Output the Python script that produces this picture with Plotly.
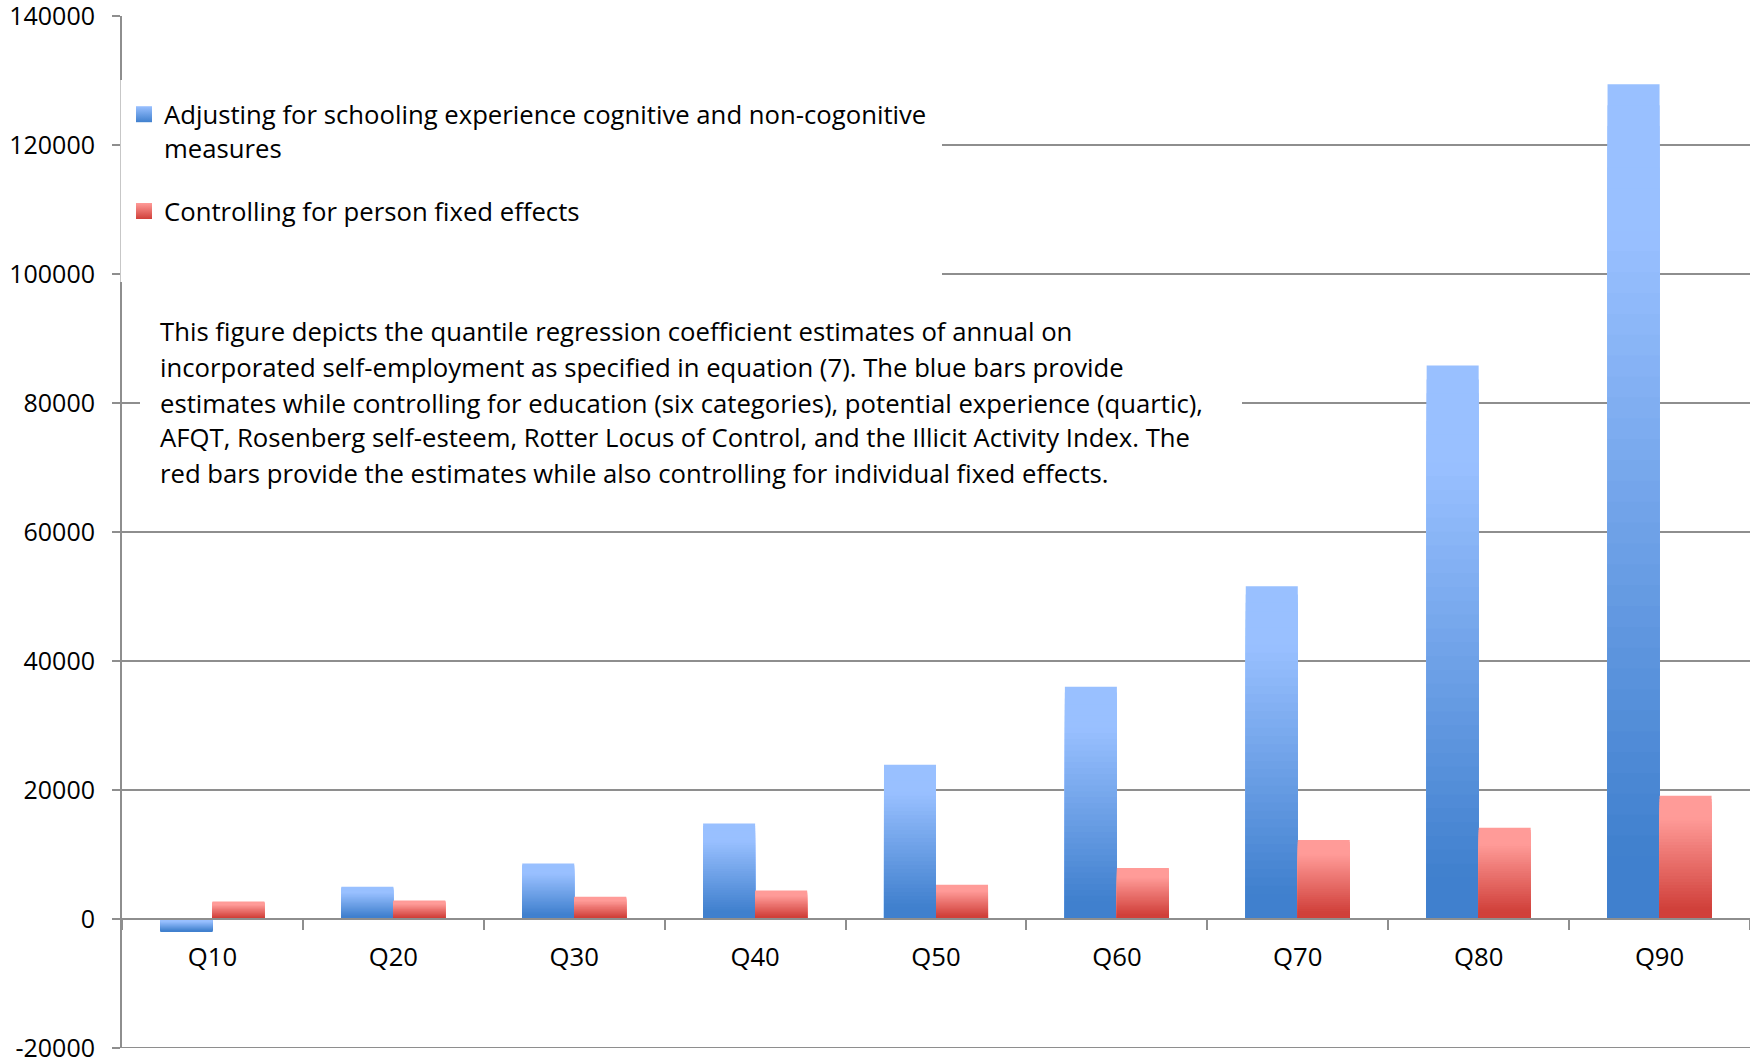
import plotly.graph_objects as go

# ---------------- data ----------------
categories = ["Q10", "Q20", "Q30", "Q40", "Q50", "Q60", "Q70", "Q80", "Q90"]
blue_values = [-2000, 5000, 8600, 14800, 23900, 36000, 51600, 85800, 129400]
red_values = [2700, 2850, 3450, 4400, 5300, 7900, 12250, 14150, 19100]
series_names = [
    "Adjusting for schooling experience cognitive and non-cogonitive<br>measures",
    "Controlling for person fixed effects",
]
y_tick_values = [-20000, 0, 20000, 40000, 60000, 80000, 100000, 120000, 140000]
note_lines = [
    "This figure depicts the quantile regression coefficient estimates of annual on",
    "incorporated self-employment as specified in equation (7). The blue bars provide",
    "estimates while controlling for education (six categories), potential experience (quartic),",
    "AFQT, Rosenberg self-esteem, Rotter Locus of Control, and the Illicit Activity Index. The",
    "red bars provide the estimates while also controlling for individual fixed effects.",
]

# ---------------- layout geometry (page pixels) ----------------
W, H = 1750, 1060
PLOT_L, PLOT_R, PLOT_T, PLOT_B = 122, 1750, 16, 1048
ML, MR, MT, MB = PLOT_L, W - PLOT_R, PLOT_T, H - PLOT_B
PW, PH = PLOT_R - PLOT_L, PLOT_B - PLOT_T


def px_x(px):
    return (px - PLOT_L) / PW


def px_y(py):
    return (PLOT_B - py) / PH


FONT = "'Open Sans', Lato, sans-serif"
FS = 25.7
FS_TICK = 25
GRID = "#8e8e8e"

BLUE_LIGHT, BLUE_DARK = (153, 192, 255), (64, 128, 206)
RED_LIGHT, RED_DARK = (255, 155, 152), (208, 64, 58)


def grad(light, dark, t):
    a, b = 0.18, 0.92
    f = min(max((t - a) / (b - a), 0.0), 1.0)
    c = [round(light[i] + (dark[i] - light[i]) * f) for i in range(3)]
    return "rgb(%d,%d,%d)" % tuple(c)


fig = go.Figure()

# each bar is drawn as a stack of nested bars (full height first, shorter on top)
# so that it shows a vertical colour gradient
N = 40
for vals, light, dark, grp in [
    (blue_values, BLUE_LIGHT, BLUE_DARK, "blue"),
    (red_values, RED_LIGHT, RED_DARK, "red"),
]:
    for k in range(N):
        frac = (N - k) / N
        heights = [v * frac for v in vals]
        mid = (N - k - 0.5) / N
        colors = []
        for v in vals:
            t = (1 - mid) if v >= 0 else mid
            colors.append(grad(light, dark, t))
        fig.add_bar(
            x=categories,
            y=heights,
            offsetgroup=grp,
            marker=dict(color=colors, line=dict(width=0)),
            showlegend=False,
            hoverinfo="skip",
        )

# legend entries
for name, light, dark, grp in [
    (series_names[0], BLUE_LIGHT, BLUE_DARK, "g1"),
    (series_names[1], RED_LIGHT, RED_DARK, "g2"),
]:
    fig.add_scatter(
        x=[None],
        y=[None],
        mode="markers",
        name=name,
        legendgroup=grp,
        marker=dict(
            symbol="square",
            size=16,
            color="rgb(%d,%d,%d)" % light,
            gradient=dict(type="vertical", color="rgb(%d,%d,%d)" % dark),
            line=dict(width=0),
        ),
    )

# white boxes behind legend and note (they hide the gridlines)
shapes = [
    dict(type="rect", xref="paper", yref="paper", layer="above",
         x0=px_x(120.5), x1=px_x(942), y0=px_y(282), y1=px_y(80),
         fillcolor="white", line=dict(width=0)),
    dict(type="rect", xref="paper", yref="paper", layer="above",
         x0=px_x(140), x1=px_x(1242), y0=px_y(510), y1=px_y(288),
         fillcolor="white", line=dict(width=0)),
    # bottom gridline at the lower range edge
    dict(type="line", xref="paper", yref="y", layer="below",
         x0=0, x1=1, y0=y_tick_values[0], y1=y_tick_values[0],
         line=dict(color=GRID, width=2)),
]

note_y = [331.5, 367, 403, 437.5, 473]
annotations = [
    dict(xref="paper", yref="paper", x=px_x(158), y=px_y(yy), text=line,
         showarrow=False, xanchor="left", yanchor="middle",
         font=dict(family=FONT, size=FS, color="black"))
    for line, yy in zip(note_lines, note_y)
]

fig.update_layout(
    width=W,
    height=H,
    margin=dict(l=ML, r=MR, t=MT, b=MB, pad=0, autoexpand=False),
    paper_bgcolor="white",
    plot_bgcolor="white",
    barmode="group",
    bargap=0.425,
    bargroupgap=0,
    showlegend=True,
    legend=dict(
        x=px_x(124),
        y=px_y(91),
        xanchor="left",
        yanchor="top",
        bgcolor="rgba(0,0,0,0)",
        font=dict(family=FONT, size=FS, color="black"),
        traceorder="grouped",
        tracegroupgap=27,
        valign="top",
        itemsizing="trace",
    ),
    shapes=shapes,
    annotations=annotations,
    font=dict(family=FONT, size=FS, color="black"),
)

fig.update_yaxes(
    range=[-20000, 140000],
    tickvals=y_tick_values,
    ticktext=[str(v) for v in y_tick_values],
    automargin=False,
    showgrid=True,
    gridcolor=GRID,
    gridwidth=2,
    zeroline=False,
    showline=True,
    linecolor=GRID,
    linewidth=2,
    ticks="outside",
    ticklen=8,
    tickwidth=2,
    tickcolor=GRID,
    ticklabelstandoff=12,
    ticklabeloverflow="allow",
    tickfont=dict(family=FONT, size=FS_TICK, color="black"),
    domain=[0, 1],
)

fig.update_xaxes(
    type="category",
    categoryorder="array",
    categoryarray=categories,
    automargin=False,
    anchor="free",
    position=(0 - (-20000)) / (140000 - (-20000)),
    showline=True,
    linecolor=GRID,
    linewidth=2,
    showgrid=False,
    ticks="outside",
    tickson="boundaries",
    ticklen=10,
    tickwidth=2,
    tickcolor=GRID,
    ticklabelstandoff=15,
    tickfont=dict(family=FONT, size=FS, color="black"),
)

fig.write_html(
    "out.html",
    config={"displayModeBar": False},
    post_script="document.body.style.margin='0px';document.body.style.overflow='hidden';",
)
